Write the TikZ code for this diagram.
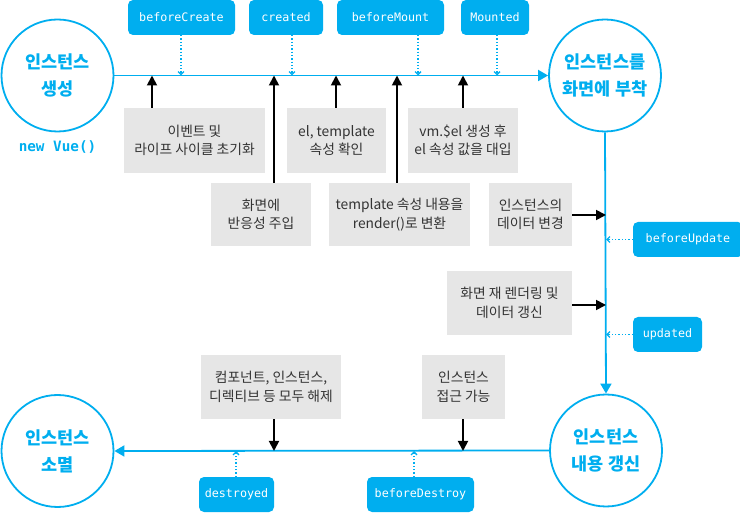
\documentclass[tikz,border=0pt]{standalone}
\usepackage{fontspec}
\setmainfont{Noto Sans CJK KR}
\newfontfamily\monof{DejaVu Sans Mono}
\usetikzlibrary{arrows.meta}
\definecolor{vblue}{HTML}{00AEEF}
\definecolor{vgray}{HTML}{E6E6E6}
\definecolor{vtext}{HTML}{333333}
\begin{document}
\begin{tikzpicture}[x=1pt,y=-1pt,
  hook/.style={fill=vblue, rounded corners=5pt, text=white, font=\monof\fontsize{11.7}{13}\selectfont, minimum height=35pt, inner sep=0pt},
  gbox/.style={fill=vgray, text=vtext, font=\fontsize{13.8}{18.5}\selectfont, align=center, inner sep=0pt},
  stage/.style={circle, draw=vblue, line width=1.8pt, minimum size=112pt, inner sep=0pt, text=vblue, font=\bfseries\fontsize{17.5}{27}\selectfont, align=center},
  bline/.style={draw=vblue, line width=1.8pt, -{Triangle[length=10pt,width=11pt]}},
  blk/.style={draw=black, line width=1.8pt, -{Triangle[length=10pt,width=10pt]}},
  dots/.style={draw=vblue, line width=1.3pt, dotted, -{Straight Barb[length=3pt,width=6pt]}}
]
\useasboundingbox (0,0) rectangle (740,513);
% stage circles
\node[stage] (c1) at (57.5,75.5) {인스턴스\\생성};
\node[stage] (c2) at (605,75.5) {인스턴스를\\화면에 부착};
\node[stage] (c3) at (606,450.5) {인스턴스\\내용 갱신};
\node[stage] (c4) at (57.5,451) {인스턴스\\소멸};
\node[text=vblue, font=\monof\bfseries\fontsize{14.3}{16}\selectfont] (nv) at (57.5,147.5) {new Vue()};
% main lines
\draw[bline] (c1.east) -- (c2.west);
\draw[bline] (c2.south) -- (c3.north);
\draw[bline] (c3.west) -- (c4.east);
% hook boxes
\node[hook, minimum width=107pt] (bc) at (181.5,17.5) {beforeCreate};
\node[hook, minimum width=74pt] (cr) at (286,17.5) {created};
\node[hook, minimum width=107pt] (bm) at (390.5,17.5) {beforeMount};
\node[hook, minimum width=68pt] (mo) at (495,17.5) {Mounted};
\node[hook, minimum width=110pt] (bu) at (688,239.5) {beforeUpdate};
\node[hook, minimum width=69pt] (up) at (667.5,334.5) {updated};
\node[hook, minimum width=75pt] (de) at (236.5,494.5) {destroyed};
\node[hook, minimum width=107pt] (bd) at (420.5,494.5) {beforeDestroy};
% gray boxes
\node[gbox, minimum width=141pt, minimum height=65pt] (A) at (194.5,140.5) {이벤트 및\\라이프 사이클 초기화};
\node[gbox, minimum width=100pt, minimum height=63pt] (B) at (261,214.5) {화면에\\반응성 주입};
\node[gbox, minimum width=99pt, minimum height=65pt] (C) at (336.5,140.5) {el, template\\속성 확인};
\node[gbox, minimum width=141pt, minimum height=63pt] (D) at (399.5,214.5) {template 속성 내용을\\render()로 변환};
\node[gbox, minimum width=110pt, minimum height=65pt] (E) at (463,140.5) {vm.\$el 생성 후\\el 속성 값을 대입};
\node[gbox, minimum width=83pt, minimum height=63pt] (F) at (530.5,214.5) {인스턴스의\\데이터 변경};
\node[gbox, minimum width=125pt, minimum height=64pt] (G) at (509.5,303) {화면 재 렌더링 및\\데이터 갱신};
\node[gbox, minimum width=83pt, minimum height=64pt] (H) at (463.5,387) {인스턴스\\접근 가능};
\node[gbox, minimum width=140pt, minimum height=64pt] (I) at (271,387) {컴포넌트, 인스턴스,\\디렉티브 등 모두 해제};
% points on the lines
\coordinate (pA) at (152,75.5);
\coordinate (pB) at (274,75.5);
\coordinate (pC) at (336,75.5);
\coordinate (pD) at (397,75.5);
\coordinate (pE) at (463,75.5);
\coordinate (hbc) at (181,75.5);
\coordinate (hcr) at (292,75.5);
\coordinate (hbm) at (418,75.5);
\coordinate (hmo) at (497,75.5);
\coordinate (pF) at (606,215);
\coordinate (pG) at (606,305);
\coordinate (hbu) at (606,239.5);
\coordinate (hup) at (606,334.5);
\coordinate (pH) at (463,451);
\coordinate (pI) at (274,451);
\coordinate (hde) at (236,451);
\coordinate (hbd) at (414,451);
% black arrows
\draw[blk] (A.north -| pA) -- (pA);
\draw[blk] (B.north -| pB) -- (pB);
\draw[blk] (C.north -| pC) -- (pC);
\draw[blk] (D.north -| pD) -- (pD);
\draw[blk] (E.north -| pE) -- (pE);
\draw[blk] (F.east |- pF) -- (pF);
\draw[blk] (G.east |- pG) -- (pG);
\draw[blk] (H.south -| pH) -- (pH);
\draw[blk] (I.south -| pI) -- (pI);
% dotted hook arrows
\draw[dots] (bc.south -| hbc) -- (hbc);
\draw[dots] (cr.south -| hcr) -- (hcr);
\draw[dots] (bm.south -| hbm) -- (hbm);
\draw[dots] (mo.south -| hmo) -- (hmo);
\draw[dots] (bu.west |- hbu) -- (hbu);
\draw[dots] (up.west |- hup) -- (hup);
\draw[dots] (de.north -| hde) -- (hde);
\draw[dots] (bd.north -| hbd) -- (hbd);
\end{tikzpicture}
\end{document}
